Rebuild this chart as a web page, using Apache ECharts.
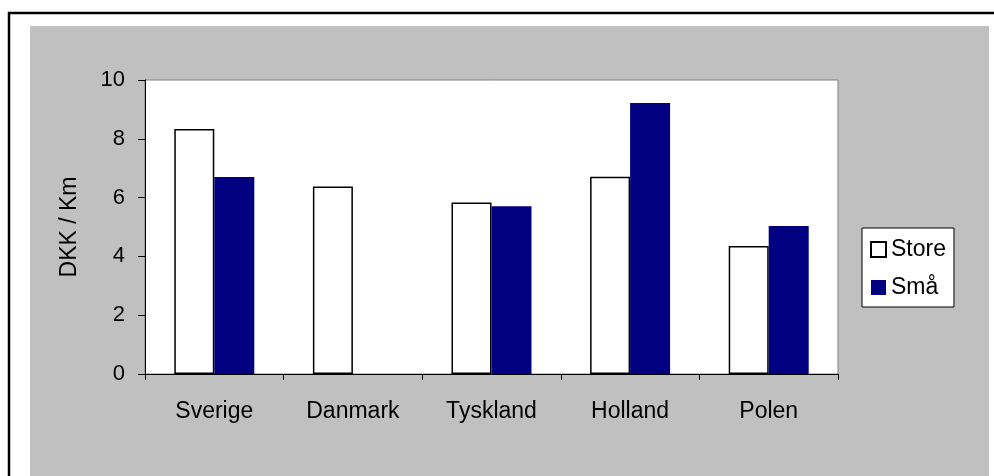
<!DOCTYPE html>
<html>
<head>
<meta charset="utf-8">
<title>DKK / Km</title>
<script src="https://cdn.jsdelivr.net/npm/echarts@6/dist/echarts.min.js"></script>
<style>
  html, body { margin: 0; padding: 0; background: #ffffff; }
  #chart { width: 994px; height: 476px; }
</style>
</head>
<body>
<div id="chart"></div>
<script>
// Cost per kilometre by country, large vs. small
const countries = ['Sverige', 'Danmark', 'Tyskland', 'Holland', 'Polen'];
const storeValues = [8.33, 6.38, 5.83, 6.71, 4.35];
const smaValues = [6.70, null, 5.71, 9.22, 5.03];
const yTicks = [0, 2, 4, 6, 8, 10];

const FONT = '"Liberation Sans", Arial, sans-serif';
const chart = echarts.init(document.getElementById('chart'), null, { renderer: 'canvas' });

chart.setOption({
  animation: false,
  backgroundColor: '#ffffff',
  textStyle: { fontFamily: FONT, color: '#000000' },
  graphic: [
    // grey chart area
    { type: 'rect', z: -10, silent: true,
      shape: { x: 30, y: 26, width: 959, height: 460 },
      style: { fill: '#c0c0c0' } },
    // frame lines
    { type: 'line', z: -5, silent: true,
      shape: { x1: 8, y1: 13, x2: 994, y2: 13 },
      style: { stroke: '#000000', lineWidth: 2.5 } },
    { type: 'line', z: -5, silent: true,
      shape: { x1: 9, y1: 12, x2: 9, y2: 476 },
      style: { stroke: '#000000', lineWidth: 2.5 } }
  ],
  grid: {
    left: 145, top: 80, right: 156, bottom: 102,
    show: true, backgroundColor: '#ffffff',
    borderColor: '#808080', borderWidth: 1
  },
  legend: {
    orient: 'vertical',
    left: 862, top: 228,
    padding: [10, 8, 8, 8],
    itemGap: 15,
    itemWidth: 15, itemHeight: 15,
    itemTextGap: 4,
    backgroundColor: '#ffffff',
    borderColor: '#000000', borderWidth: 1,
    icon: 'rect',
    textStyle: { fontFamily: FONT, fontSize: 23, lineHeight: 23, color: '#000000' },
    data: ['Store', 'Små']
  },
  xAxis: {
    type: 'category',
    data: countries,
    boundaryGap: true,
    axisLine: { show: true, lineStyle: { color: '#000000', width: 1 } },
    axisTick: { show: true, alignWithLabel: false, length: 6, lineStyle: { color: '#000000' } },
    axisLabel: { margin: 26, fontFamily: FONT, fontSize: 23, color: '#000000' },
    splitLine: { show: false }
  },
  yAxis: {
    type: 'value',
    min: yTicks[0], max: yTicks[yTicks.length - 1], interval: 2,
    name: 'DKK / Km',
    nameLocation: 'middle',
    nameGap: 64,
    nameRotate: 90,
    nameTextStyle: { fontFamily: FONT, fontSize: 23, color: '#000000' },
    axisLine: { show: true, lineStyle: { color: '#000000', width: 1 } },
    axisTick: { show: true, length: 7, lineStyle: { color: '#000000' } },
    axisLabel: { margin: 20, fontFamily: FONT, fontSize: 22, color: '#000000' },
    splitLine: { show: false }
  },
  series: [
    {
      name: 'Store', type: 'bar',
      data: storeValues,
      barWidth: 40, barGap: '0%',
      itemStyle: { color: '#ffffff', borderColor: '#000000', borderWidth: 1.5 }
    },
    {
      name: 'Små', type: 'bar',
      data: smaValues,
      barWidth: 40, barGap: '0%',
      itemStyle: { color: '#000080' }
    }
  ]
});
</script>
</body>
</html>
